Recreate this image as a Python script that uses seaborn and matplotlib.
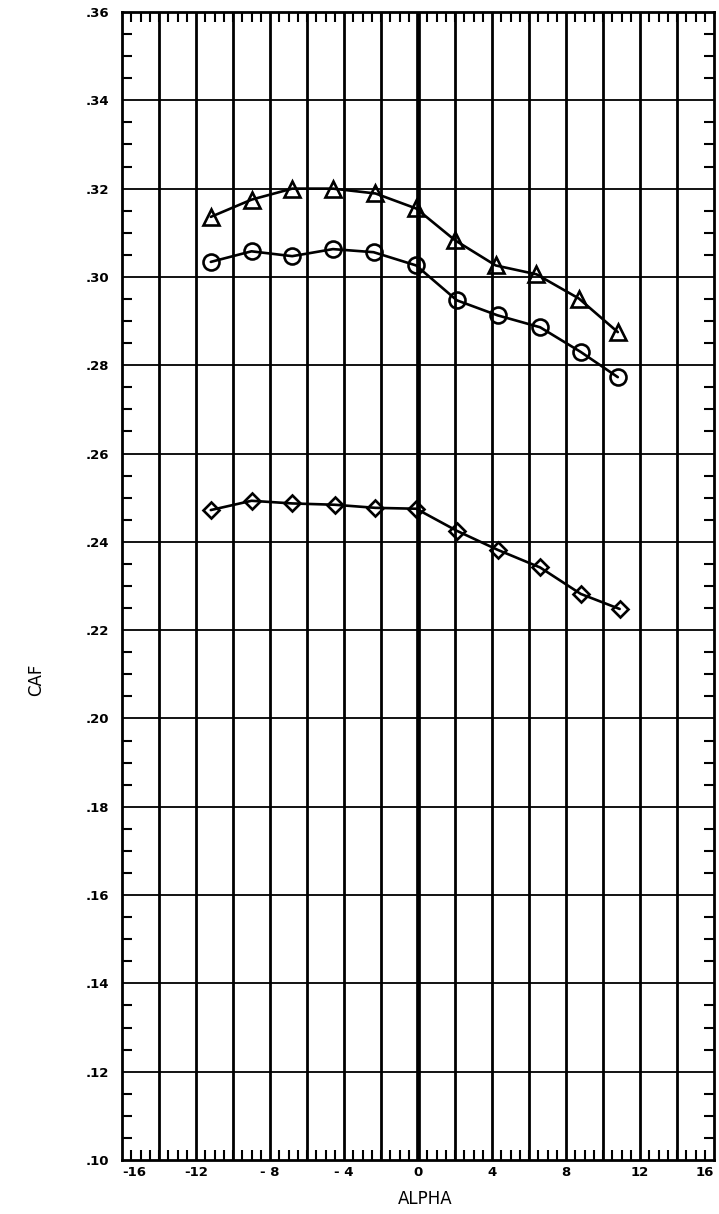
import matplotlib
matplotlib.use("Agg")
import matplotlib.pyplot as plt
import seaborn as sns
import pandas as pd
import numpy as np
from matplotlib.ticker import MultipleLocator, FixedLocator

# ---- data ----
alpha_tri = [-11.2, -9.0, -6.8, -4.6, -2.3, -0.1, 2.0, 4.2, 6.4, 8.7, 10.8]
caf_tri = [0.3136, 0.3175, 0.3200, 0.3200, 0.3189, 0.3155, 0.3083, 0.3026, 0.3006, 0.2951, 0.2875]

alpha_circ = [-11.2, -9.0, -6.8, -4.6, -2.4, -0.1, 2.1, 4.3, 6.6, 8.8, 10.8]
caf_circ = [0.3034, 0.3058, 0.3047, 0.3063, 0.3056, 0.3026, 0.2947, 0.2913, 0.2886, 0.2830, 0.2773]

alpha_dia = [-11.2, -9.0, -6.8, -4.5, -2.3, -0.1, 2.1, 4.3, 6.6, 8.8, 10.9]
caf_dia = [0.2472, 0.2493, 0.2487, 0.2484, 0.2477, 0.2475, 0.2425, 0.2382, 0.2342, 0.2282, 0.2248]

x_ticks = [-16, -12, -8, -4, 0, 4, 8, 12, 16]
x_ticklabels = ["-16", "-12", "- 8", "- 4", "0", "4", "8", "12", "16"]
y_ticks = [0.10, 0.12, 0.14, 0.16, 0.18, 0.20, 0.22, 0.24, 0.26, 0.28, 0.30, 0.32, 0.34, 0.36]
y_ticklabels = [".10", ".12", ".14", ".16", ".18", ".20", ".22", ".24", ".26", ".28", ".30", ".32", ".34", ".36"]

sns.set_style("white")
plt.rcParams['font.family'] = ['DejaVu Sans']
plt.rcParams['text.color'] = 'black'
plt.rcParams['axes.labelcolor'] = 'black'
plt.rcParams['xtick.color'] = 'black'
plt.rcParams['ytick.color'] = 'black'

fig = plt.figure(figsize=(7.19, 12.14), dpi=100)
ax = fig.add_axes([122/719, 1 - 1160/1214, 592/719, 1148/1214])

# grid
for xv in np.arange(-14, 16, 2):
    ax.axvline(xv, color="black", lw=3.4 if xv == 0 else 2.0, zorder=1)
for yv in np.arange(0.12, 0.36, 0.02):
    ax.axhline(yv, color="black", lw=1.3, zorder=1)

series = [
    (alpha_tri, caf_tri, "^", 11.5),
    (alpha_circ, caf_circ, "o", 11.5),
    (alpha_dia, caf_dia, "D", 8.5),
]
for xs, ys, mk, ms in series:
    df = pd.DataFrame({"ALPHA": xs, "CAF": ys})
    sns.lineplot(data=df, x="ALPHA", y="CAF", ax=ax, color="black", lw=1.9,
                 marker=mk, markersize=ms, mfc="none", mec="black", mew=1.9,
                 zorder=3, sort=False)

ax.set_xlim(-16, 16)
ax.set_ylim(0.10, 0.36)

ax.xaxis.set_major_locator(FixedLocator(x_ticks))
ax.set_xticklabels(x_ticklabels, fontsize=9.5, fontweight="bold")
ax.yaxis.set_major_locator(FixedLocator(y_ticks))
ax.set_yticklabels(y_ticklabels, fontsize=9.5, fontweight="bold")
ax.xaxis.set_minor_locator(MultipleLocator(0.5))
ax.yaxis.set_minor_locator(MultipleLocator(0.005))
xt = ax.get_xticklabels()
xt[0].set_ha("left")
xt[-1].set_ha("right")

ax.tick_params(which="major", length=0, direction="in", top=True, right=True)
ax.tick_params(axis="y", which="major", pad=9)
ax.tick_params(axis="x", which="major", pad=4)
ax.tick_params(which="minor", direction="in", length=7, width=1.5,
               top=True, right=True, bottom=True, left=True, color="black")

for s in ax.spines.values():
    s.set_visible(True)
    s.set_color("black")
    s.set_linewidth(2)

ax.set_xlabel("ALPHA", fontsize=12)
ax.set_ylabel("CAF", fontsize=12)
ax.xaxis.set_label_coords(0.512, -0.026)
ax.yaxis.set_label_coords(-0.13, 0.418)

fig.savefig("out.png", dpi=100)
